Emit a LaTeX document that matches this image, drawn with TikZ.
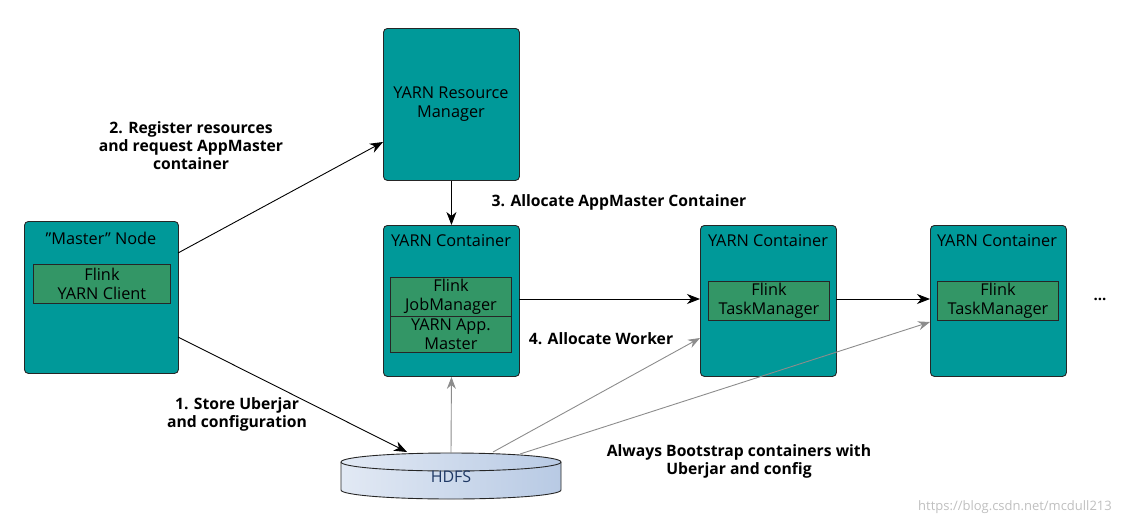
\documentclass[tikz,border=0pt]{standalone}
\usepackage{fontspec}
\setmainfont{Open Sans}
\usetikzlibrary{arrows.meta,shapes.geometric}
\definecolor{teal1}{RGB}{0,153,153}
\definecolor{green1}{RGB}{51,150,102}
\definecolor{hdfsL}{RGB}{226,233,244}
\definecolor{hdfsR}{RGB}{184,202,228}
\definecolor{hdfsT}{RGB}{31,56,100}
\tikzset{
  box/.style={draw=black!85, line width=0.9pt, fill=teal1, rounded corners=4pt},
  inner/.style={draw=black!85, line width=0.9pt, fill=green1},
  ttl/.style={font=\fontsize{16.3}{18.5}\selectfont, text=black, align=center},
  lbl/.style={font=\fontsize{15.7}{18}\selectfont\bfseries, align=center},
  blk/.style={-{Stealth[length=13pt,width=10pt,inset=4pt]}, line width=0.9pt, black},
  gry/.style={-{Stealth[length=12pt,width=9pt,inset=4pt]}, line width=0.9pt, gray!90},
}
\begin{document}
\begin{tikzpicture}[x=1pt,y=-1pt]
\useasboundingbox (0,0) rectangle (1134,522);
% Master node
\node[box, minimum width=154pt, minimum height=152pt, anchor=north west] (master) at (24,221) {};
\node[ttl] (mastert) at (101,238) {\symbol{34}Master\symbol{34} Node};
\node[inner, minimum width=137pt, minimum height=39pt, anchor=north west, ttl, inner sep=0pt] (client) at (33,264) {Flink\\YARN Client};
% Resource manager
\node[box, minimum width=136pt, minimum height=152pt, anchor=north west] (rm) at (383,28) {};
\node[ttl] (rmt) at (451,104) {YARN Resource\\Manager};
% Container JM
\node[box, minimum width=136pt, minimum height=151pt, anchor=north west] (c1) at (383,225) {};
\node[ttl] (c1t) at (451,241) {YARN Container};
\node[inner, minimum width=121pt, minimum height=39pt, anchor=north west, ttl, inner sep=0pt] (jm) at (390,277) {Flink\\JobManager};
\node[inner, minimum width=121pt, minimum height=36pt, anchor=north west, ttl, inner sep=0pt] (am) at (390,316) {YARN App.\\Master};
% Container TM1
\node[box, minimum width=136pt, minimum height=151pt, anchor=north west] (c2) at (700,225) {};
\node[ttl] (c2t) at (768,241) {YARN Container};
\node[inner, minimum width=121pt, minimum height=39pt, anchor=north west, ttl, inner sep=0pt] (tm1) at (708,281) {Flink\\TaskManager};
% Container TM2
\node[box, minimum width=136pt, minimum height=151pt, anchor=north west] (c3) at (930,225) {};
\node[ttl] (c3t) at (997,241) {YARN Container};
\node[inner, minimum width=121pt, minimum height=39pt, anchor=north west, ttl, inner sep=0pt] (tm2) at (937,281) {Flink\\TaskManager};
\node[font=\fontsize{15}{17}\selectfont\bfseries] (dots) at (1100,299) {...};
% HDFS cylinder
\shade[left color=hdfsL, right color=hdfsR, draw=black!85, line width=0.9pt]
  (341,462) -- (341,490) arc[start angle=180, end angle=360, x radius=110pt, y radius=9pt] -- (561,462) arc[start angle=0, end angle=180, x radius=110pt, y radius=9pt] -- cycle;
\draw[black!85, line width=0.9pt] (341,462) arc[start angle=180, end angle=360, x radius=110pt, y radius=9pt];
\node[font=\fontsize{16}{18}\selectfont, text=hdfsT] (hdfs) at (451,477) {HDFS};
\coordinate (h1) at (407,452);
\coordinate (h2) at (451,453);
\coordinate (h3) at (493,452);
\coordinate (h4) at (520,454);
% arrows
\draw[blk] (178,253) -- (383,142);
\draw[blk] (178,337) -- (h1);
\draw[blk] (rm.south) -- (c1.north);
\draw[blk] (519,299) -- (700,299);
\draw[blk] (836,299) -- (930,299);
\draw[gry] (h2) -- (c1.south);
\draw[gry] (h3) -- (700,338);
\draw[gry] (h4) -- (930,322);
% labels
\node[lbl] (l2) at (191,146) {2. Register resources\\and request AppMaster\\container};
\node[lbl] (l3) at (619,202) {3. Allocate AppMaster Container};
\node[lbl] (l4) at (601,339) {4. Allocate Worker};
\node[lbl] (l1) at (237,414) {1. Store Uberjar\\and configuration};
\node[lbl] (l5) at (739,461) {Always Bootstrap containers with\\Uberjar and config};
\node[font=\fontsize{13}{15}\selectfont, text=black!25] (wm) at (1015,507) {https://blog.csdn.net/mcdull213};
\end{tikzpicture}
\end{document}
